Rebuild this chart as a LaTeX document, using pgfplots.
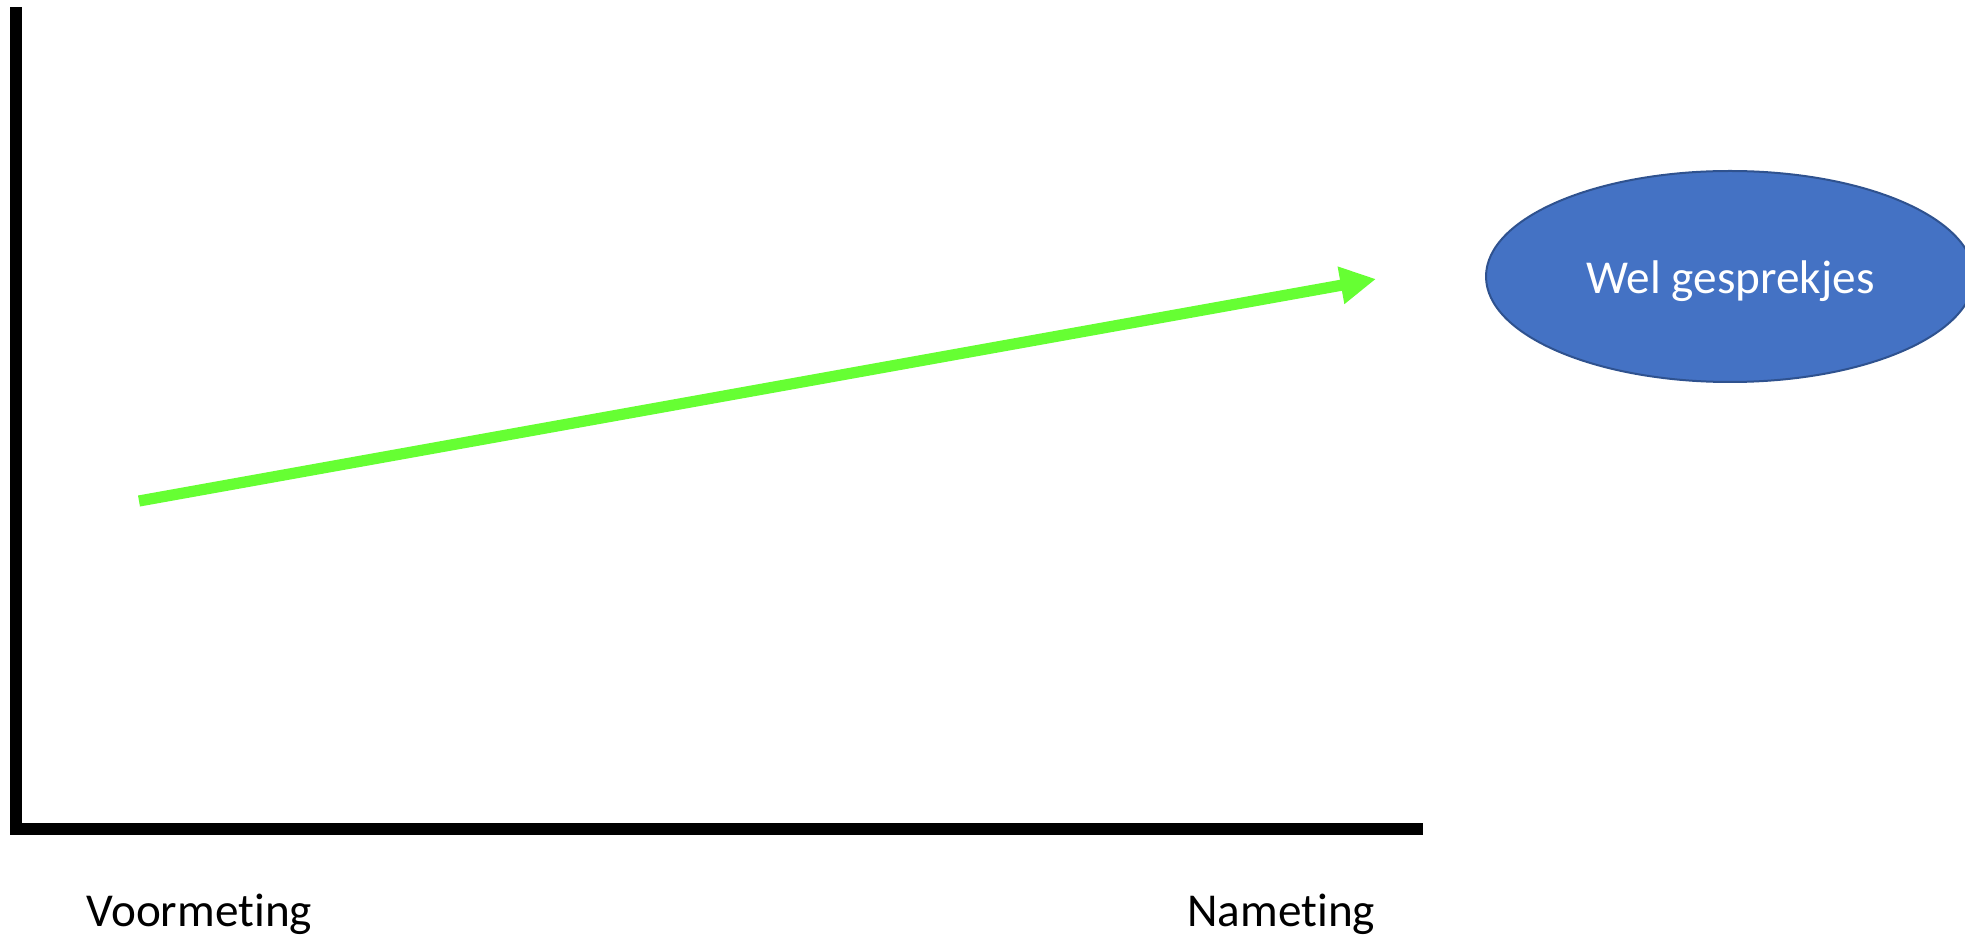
\documentclass[border=0pt]{standalone}
\usepackage{fontspec}
\setmainfont[Ligatures={NoCommon}]{Carlito}
\usepackage{pgfplots}
\pgfplotsset{compat=1.18}
\usetikzlibrary{arrows.meta}
\definecolor{arrowgreen}{RGB}{102,255,51}
\definecolor{ellfill}{RGB}{68,114,196}
\definecolor{elldraw}{RGB}{47,82,143}
\begin{document}
\begin{tikzpicture}
\useasboundingbox (0,0) rectangle (982.5pt,469pt);
\clip (0,0) rectangle (982.5pt,469pt);
\begin{axis}[
  at={(8pt,54.5pt)}, anchor=south west,
  scale only axis, width=700.5pt, height=408pt,
  xmin=16, xmax=1417, ymin=109, ymax=925,
  axis lines=left,
  axis line style={-, line width=6pt, line cap=rect, black},
  xtick=\empty, ytick=\empty,
  clip=false,
]
\addplot[color=arrowgreen, line width=5.6pt, line cap=butt,
  -{Triangle[length=17.8pt,width=17.8pt]}]
  coordinates {(139,437) (1376,659)};
\draw[fill=ellfill, draw=elldraw, line width=1pt]
  (axis cs:1730,661.5) ellipse [x radius=122pt, y radius=52.75pt];
\node[anchor=base, inner sep=0pt, text=white, font=\fontsize{23.6pt}{28pt}\selectfont]
  at (axis cs:1730.5,644.7) {Wel gesprekjes};
\node[anchor=base west, inner sep=0pt, font=\fontsize{23.6pt}{28pt}\selectfont]
  at (axis cs:86,11.3) {Voormeting};
\node[anchor=base west, inner sep=0pt, font=\fontsize{23.6pt}{28pt}\selectfont]
  at (axis cs:1187,11.3) {Nameting};
\end{axis}
\end{tikzpicture}
\end{document}
